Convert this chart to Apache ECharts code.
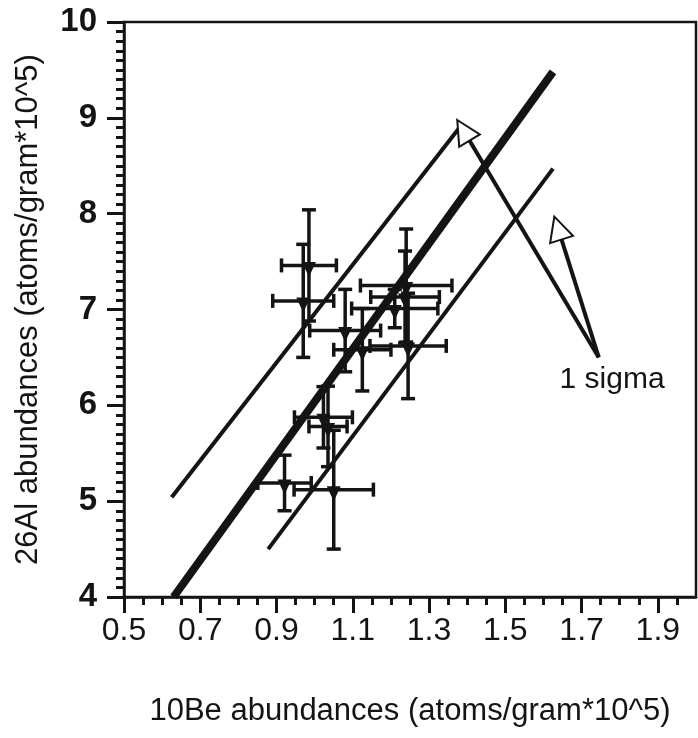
<!DOCTYPE html>
<html>
<head>
<meta charset="utf-8">
<script src="https://cdn.jsdelivr.net/npm/echarts@6/dist/echarts.min.js"></script>
<style>
html, body { margin: 0; padding: 0; background: #fff; }
#chart { width: 698px; height: 738px; }
</style>
</head>
<body>
<div id="chart"></div>
<script>
// 10Be (x) and 26Al (y) abundances, with 1 sigma errors
var be10 = [0.985, 0.97, 1.24, 1.237, 1.21, 1.245, 1.08, 1.125, 1.023, 1.035, 0.921, 1.05];
var al26 = [7.46, 7.09, 7.25, 7.13, 7.01, 6.62, 6.78, 6.58, 5.875, 5.78, 5.19, 5.12];
var be10Err = [0.072, 0.08, 0.12, 0.09, 0.113, 0.1, 0.093, 0.075, 0.076, 0.05, 0.07, 0.104];
var al26Err = [0.58, 0.59, 0.59, 0.48, 0.2, 0.55, 0.43, 0.43, 0.32, 0.42, 0.29, 0.62];

// ratio line and the two 1 sigma lines
var fitLine = [[0.63, 4.0], [1.625, 9.48]];
var upperLine = [[0.625, 5.04], [1.38, 8.9]];
var lowerLine = [[0.878, 4.5], [1.625, 8.47]];

// arrows for the "1 sigma" note (end = centre of the open arrowhead)
var arrowFrom = [1.745, 6.5];
var arrowTo = [[1.39, 8.87], [1.638, 7.85]];
var noteAt = [1.78, 6.27];
var noteText = '1 sigma';

var xTicks = [0.5, 0.7, 0.9, 1.1, 1.3, 1.5, 1.7, 1.9];
var yTicks = [4, 5, 6, 7, 8, 9, 10];
var xMin = 0.5, xMax = 2.0;

var ink = '#141414';
var font = 'Liberation Sans, Arial, Helvetica, sans-serif';

// minor ticks every 0.05 between the labelled ticks
var xMinor = [];
for (var i = 11; i < 40; i++) {
	var v = i / 20;
	if (xTicks.indexOf(v) < 0) xMinor.push(v);
}

var points = be10.map(function (x, i) {
	return [x, al26[i], be10Err[i], al26Err[i]];
});

var myChart = echarts.init(document.getElementById('chart'));

function renderErr(params, api) {
	var x = api.value(0), y = api.value(1), ex = api.value(2), ey = api.value(3);
	var l = api.coord([x - ex, y]), r = api.coord([x + ex, y]);
	var t = api.coord([x, y + ey]), b = api.coord([x, y - ey]);
	var cap = 7;
	var st = { stroke: ink, lineWidth: 3.5 };
	var seg = function (x1, y1, x2, y2) {
		return { type: 'line', shape: { x1: x1, y1: y1, x2: x2, y2: y2 }, style: st };
	};
	return {
		type: 'group',
		children: [
			seg(l[0], l[1], r[0], r[1]),
			seg(t[0], t[1], b[0], b[1]),
			seg(l[0], l[1] - cap, l[0], l[1] + cap),
			seg(r[0], r[1] - cap, r[0], r[1] + cap),
			seg(t[0] - cap, t[1], t[0] + cap, t[1]),
			seg(b[0] - cap, b[1], b[0] + cap, b[1])
		]
	};
}

var option = {
	backgroundColor: '#fff',
	animation: false,
	grid: {
		left: 124, right: 2, top: 22, bottom: 141,
		show: true, borderColor: ink, borderWidth: 2.5, backgroundColor: 'transparent'
	},
	xAxis: [{
		type: 'value', min: xMin, max: xMax,
		name: '10Be abundances (atoms/gram*10^5)',
		nameLocation: 'middle', nameGap: 99,
		nameTextStyle: { fontSize: 31, color: ink, fontFamily: font },
		axisLine: { lineStyle: { color: ink, width: 2.5 } },
		axisTick: { length: 16, lineStyle: { color: ink, width: 3 }, customValues: xTicks },
		axisLabel: {
			customValues: xTicks, margin: 18, fontSize: 32, color: ink, fontFamily: font,
			formatter: function (v) { return v.toFixed(1); }
		},
		splitLine: { show: false }
	}, {
		type: 'value', min: xMin, max: xMax, position: 'bottom',
		axisLine: { show: false },
		axisTick: { length: 8, lineStyle: { color: ink, width: 3 }, customValues: xMinor },
		axisLabel: { show: false },
		splitLine: { show: false }
	}],
	yAxis: {
		type: 'value', min: yTicks[0], max: yTicks[yTicks.length - 1], interval: 1,
		name: '26Al abundances (atoms/gram*10^5)',
		nameLocation: 'middle', nameGap: 80,
		nameTextStyle: { fontSize: 31, color: ink, fontFamily: font },
		axisLine: { lineStyle: { color: ink, width: 2.5 } },
		axisTick: { length: 17, lineStyle: { color: ink, width: 3 } },
		minorTick: { show: true, splitNumber: 10, length: 8, lineStyle: { color: ink, width: 3 } },
		axisLabel: { margin: 27, fontSize: 33, fontWeight: 'bold', color: ink, fontFamily: font },
		splitLine: { show: false }
	},
	series: [{
		type: 'line', data: fitLine, symbol: 'none',
		lineStyle: { color: ink, width: 8, cap: 'butt' }
	}, {
		type: 'line', data: upperLine, symbol: 'none',
		lineStyle: { color: ink, width: 4 }
	}, {
		type: 'line', data: lowerLine, symbol: 'none',
		lineStyle: { color: ink, width: 4 },
		markLine: {
			silent: true, symbol: ['none', 'emptyTriangle'], symbolSize: 24,
			lineStyle: { color: ink, width: 4, type: 'solid' },
			label: { show: false },
			data: arrowTo.map(function (p) {
				return [{ coord: arrowFrom }, { coord: p }];
			})
		}
	}, {
		type: 'custom', data: points, renderItem: renderErr, z: 3
	}, {
		type: 'scatter', data: points, z: 4,
		symbol: 'triangle', symbolRotate: 180, symbolSize: [14, 15], symbolOffset: [0, 4],
		itemStyle: { color: ink, opacity: 1 }
	}, {
		type: 'scatter', data: [noteAt], symbolSize: 0,
		itemStyle: { opacity: 1 },
		label: {
			show: true, position: 'inside', formatter: noteText,
			fontSize: 30, color: ink, fontFamily: font
		}
	}]
};

myChart.setOption(option);
</script>
</body>
</html>
